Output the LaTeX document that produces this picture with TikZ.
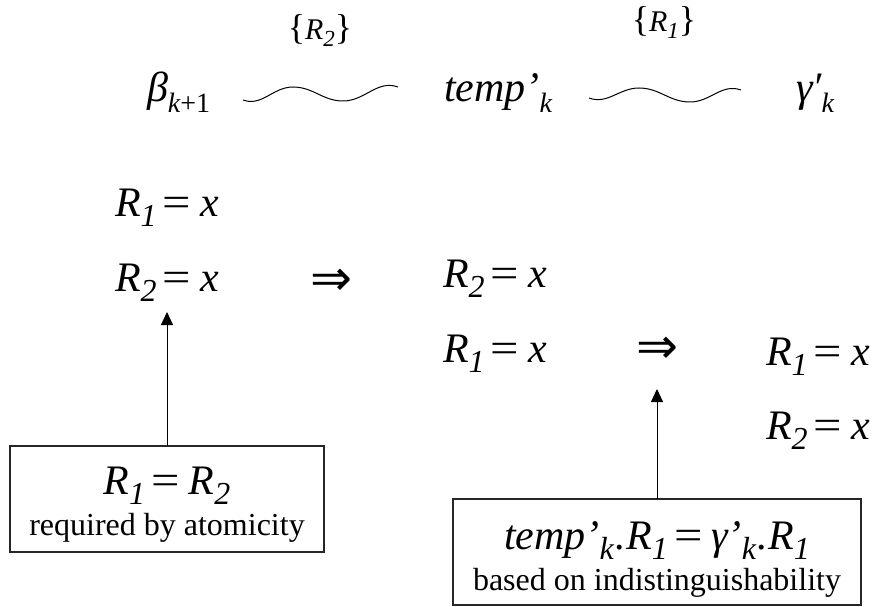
\documentclass[tikz,border=0pt]{standalone}
\usepackage{fontspec}
\setmainfont{Liberation Serif}[ItalicFont={Liberation Serif Italic},BoldFont={Liberation Serif Bold}]
\newfontfamily\djv{DejaVu Sans}
\usetikzlibrary{arrows.meta}
\newcommand\mfont{\fontsize{42}{42}\selectfont\itshape}
\newcommand\smallf{\fontsize{32}{32}\selectfont\upshape}
\newcommand\sbx[1]{\raisebox{-0.26em}{\fontsize{32}{32}\selectfont #1}}
\newcommand\sbt[1]{\raisebox{-0.26em}{\fontsize{28}{28}\selectfont #1}}
\newcommand\eqx{\hspace{0.15em}{\upshape\scalebox{1.2}[1]{=}}\hspace{0.21em}}
\newcommand\setof[1]{{\fontsize{36}{36}\selectfont\upshape\{}{\fontsize{30}{30}\selectfont\itshape R\raisebox{-0.22em}{\fontsize{23}{23}\selectfont #1}}{\fontsize{36}{36}\selectfont\upshape\}}}
\newcommand\impl{\resizebox{42pt}{!}{\djv ⇒}}
\begin{document}
\begin{tikzpicture}[x=1pt,y=-1pt,
  every node/.style={inner sep=0pt, outer sep=0pt},
  mtext/.style={font=\mfont, anchor=base west},
  note/.style={draw=black!85, line width=1.2pt},
  uparrow/.style={-{Triangle[width=12pt,length=13pt]}, line width=1pt},
  wave/.style={line width=1pt}]
\useasboundingbox (0,0) rectangle (876,607);

% top row
\node[anchor=base] (set2) at (320,40) {\setof{2}};
\node[anchor=base] (set1) at (664,32) {\setof{1}};
\node[mtext] (beta) at (147,102) {β\sbt{k\upshape +1}};
\node[mtext] (temp) at (444,102) {temp’\sbt{k}};
\node[mtext] (gam) at (796,102) {γ′\sbt{k}};

\coordinate (w1a) at (243,100);
\coordinate (w1p) at (293,87);
\coordinate (w1t) at (343,101);
\coordinate (w1b) at (398,87);
\draw[wave] (w1a) to[out=-20,in=180] (w1p) to[out=0,in=180] (w1t) to[out=0,in=160] (w1b);
\coordinate (w2a) at (589,98);
\coordinate (w2p) at (639,88);
\coordinate (w2t) at (690,102);
\coordinate (w2b) at (741,90);
\draw[wave] (w2a) to[out=-20,in=180] (w2p) to[out=0,in=180] (w2t) to[out=0,in=160] (w2b);

% equations
\node[mtext] (L1) at (115,216) {R\sbx{1}\eqx x};
\node[mtext] (L2) at (115,291) {R\sbx{2}\eqx x};
\node (imp1) at (331,282) {\impl};
\node[mtext] (M1) at (443,287) {R\sbx{2}\eqx x};
\node[mtext] (M2) at (443,362) {R\sbx{1}\eqx x};
\node (imp2) at (657,350) {\impl};
\node[mtext] (R1) at (766,365) {R\sbx{1}\eqx x};
\node[mtext] (R2) at (766,439) {R\sbx{2}\eqx x};

% boxes
\node[note, minimum width=314pt, minimum height=106pt] (box1) at (167,499) {};
\node[anchor=base, font=\mfont] (b1m) at (167,494) {R\sbx{1}\eqx R\sbx{2}};
\node[anchor=base, font=\smallf] (b1t) at (167,535) {required by atomicity};
\node[note, minimum width=408pt, minimum height=106pt] (box2) at (657,552) {};
\node[anchor=base, font=\mfont] (b2m) at (657,549) {temp’\sbx{k}\hspace{0.04em}.R\sbx{1}\eqx γ’\sbx{k}\hspace{0.04em}.R\sbx{1}};
\node[anchor=base, font=\smallf] (b2t) at (657,590) {based on indistinguishability};

% arrows
\coordinate (a1) at (167,312);
\coordinate (a2) at (657,389);
\draw[uparrow] (box1.north) -- (a1);
\draw[uparrow] (box2.north) -- (a2);
\end{tikzpicture}
\end{document}
